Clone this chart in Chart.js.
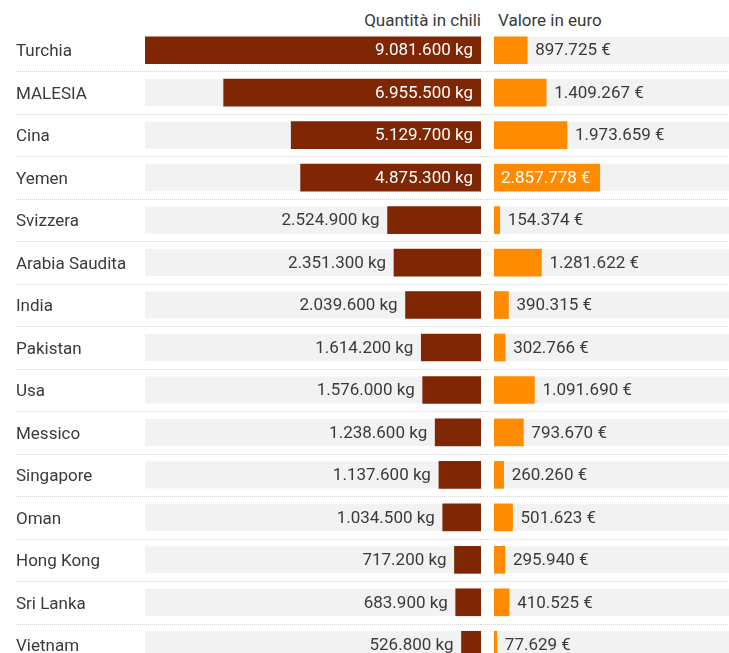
<!DOCTYPE html>
<html>
<head>
<meta charset="utf-8">
<script src="https://cdn.jsdelivr.net/npm/chart.js@4"></script>
<style>
  html, body { margin: 0; padding: 0; background: #fff; overflow: hidden; }
  #wrap { position: relative; width: 729px; height: 653px; overflow: hidden; font-family: Roboto, sans-serif; color: #3a3a3a; }
  .head { position: absolute; top: 10px; font-size: 17px; line-height: 20px; white-space: nowrap; }
  #head-kg { right: 248px; }
  #head-eur { left: 498px; }
  canvas { position: absolute; top: 29px; }
  #kgChart { left: 0; }
  #eurChart { left: 481px; }
</style>
</head>
<body>
<div id="wrap">
  <div class="head" id="head-kg">Quantità in chili</div>
  <div class="head" id="head-eur">Valore in euro</div>
  <canvas id="kgChart" width="481" height="637"></canvas>
  <canvas id="eurChart" width="349" height="637"></canvas>
</div>
<script>
// Esportazioni per paese: quantità (kg) e valore (euro)
const countries = ['Turchia', 'MALESIA', 'Cina', 'Yemen', 'Svizzera', 'Arabia Saudita', 'India', 'Pakistan', 'Usa', 'Messico', 'Singapore', 'Oman', 'Hong Kong', 'Sri Lanka', 'Vietnam'];
const kg = [9081600, 6955500, 5129700, 4875300, 2524900, 2351300, 2039600, 1614200, 1576000, 1238600, 1137600, 1034500, 717200, 683900, 526800];
const euro = [897725, 1409267, 1973659, 2857778, 154374, 1281622, 390315, 302766, 1091690, 793670, 260260, 501623, 295940, 410525, 77629];

// both panels share the same scale
const SCALE_MAX = Math.max(...kg);

const FONT_SIZE = 17;
const FONT = FONT_SIZE + 'px Roboto';
const TEXT = '#3a3a3a';

function fmt(n) {
  return String(n).replace(/\B(?=(\d{3})+(?!\d))/g, '.');
}

// grey tracks, dotted row separators and value labels
const rowDecor = {
  id: 'rowDecor',
  beforeDatasetsDraw(chart, args, opts) {
    const { ctx, chartArea: a } = chart;
    const bars = chart.getDatasetMeta(0).data;
    ctx.save();
    ctx.strokeStyle = '#d4d4d4';
    ctx.lineWidth = 1;
    ctx.setLineDash([1, 1]);
    for (let i = 0; i < bars.length - 1; i++) {
      const yy = Math.round((bars[i].y + bars[i + 1].y) / 2) + 0.5;
      ctx.beginPath();
      ctx.moveTo(opts.lineFrom, yy);
      ctx.lineTo(chart.width, yy);
      ctx.stroke();
    }
    ctx.setLineDash([]);
    ctx.fillStyle = '#f2f2f2';
    bars.forEach(b => ctx.fillRect(a.left, b.y - b.height / 2, a.width, b.height));
    ctx.restore();
  },
  afterDatasetsDraw(chart, args, opts) {
    const { ctx } = chart;
    const bars = chart.getDatasetMeta(0).data;
    const values = chart.data.datasets[0].data;
    ctx.save();
    ctx.font = FONT;
    ctx.textBaseline = 'middle';
    bars.forEach((b, i) => {
      const txt = fmt(values[i]) + opts.unit;
      const w = ctx.measureText(txt).width;
      const barW = Math.abs(b.x - b.base);
      const inside = w + 15 < barW;
      ctx.fillStyle = inside ? '#fff' : TEXT;
      if (opts.side === 'left') {
        ctx.textAlign = 'right';
        ctx.fillText(txt, inside ? b.base - 8 : b.x - 8, b.y + 1);
      } else {
        ctx.textAlign = 'left';
        ctx.fillText(txt, inside ? b.base + 7 : b.x + 8, b.y + 1);
      }
    });
    ctx.restore();
  }
};

const common = {
  responsive: false,
  animation: false,
  indexAxis: 'y',
  events: [],
  plugins: { legend: { display: false }, tooltip: { enabled: false } }
};

new Chart(document.getElementById('kgChart'), {
  type: 'bar',
  data: {
    labels: countries,
    datasets: [{
      data: kg,
      backgroundColor: '#7f2704',
      barThickness: 27,
      categoryPercentage: 1
    }]
  },
  options: {
    ...common,
    layout: { padding: { left: 16, right: 0, top: 0, bottom: 0 } },
    plugins: { ...common.plugins, rowDecor: { side: 'left', unit: ' kg', lineFrom: 16 } },
    scales: {
      x: { display: false, reverse: true, min: 0, max: SCALE_MAX },
      y: {
        grid: { display: false },
        border: { display: false },
        ticks: { crossAlign: 'far', padding: 0, labelOffset: 2, color: TEXT, font: { family: 'Roboto', size: FONT_SIZE } },
        afterFit(s) {
          // keep the row grid identical to the euro panel
          s.width = 129;
          s.paddingTop = 0;
          s.paddingBottom = 0;
        }
      }
    }
  },
  plugins: [rowDecor]
});

new Chart(document.getElementById('eurChart'), {
  type: 'bar',
  data: {
    labels: countries,
    datasets: [{
      data: euro,
      backgroundColor: '#ff8c00',
      barThickness: 27,
      categoryPercentage: 1
    }]
  },
  options: {
    ...common,
    layout: { padding: { left: 13, right: 0, top: 0, bottom: 0 } },
    plugins: { ...common.plugins, rowDecor: { side: 'right', unit: ' €', lineFrom: 0 } },
    scales: {
      x: { display: false, min: 0, max: SCALE_MAX },
      y: { display: false }
    }
  },
  plugins: [rowDecor]
});
</script>
</body>
</html>
